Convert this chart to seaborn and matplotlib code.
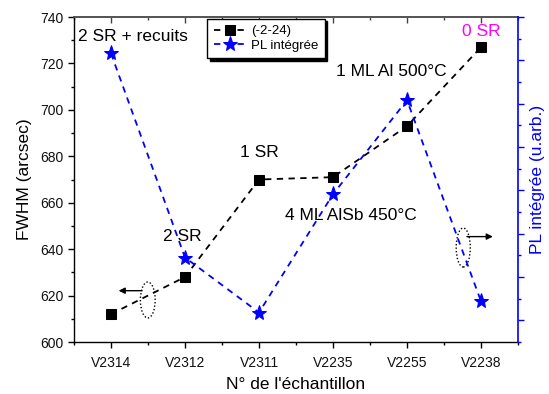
import numpy as np
import pandas as pd
import matplotlib
matplotlib.use("Agg")
import matplotlib.pyplot as plt
from matplotlib.patches import Ellipse
from matplotlib.ticker import FixedLocator, MultipleLocator
import seaborn as sns

samples = ["V2314", "V2312", "V2311", "V2235", "V2255", "V2238"]
fwhm = [612, 628, 670, 671, 693, 727]
pl_int = [6.16, 1.45, 0.18, 2.91, 5.08, 0.44]

sns.set_theme(style="ticks")
plt.rcParams['font.family'] = ['Liberation Sans', 'DejaVu Sans']
plt.rcParams.update({"text.color": "black", "axes.labelcolor": "black",
                     "xtick.color": "black", "ytick.color": "black"})

pos = np.arange(len(samples))
df = pd.DataFrame({"pos": pos, "sample": samples, "fwhm": fwhm, "pl": pl_int})

fig = plt.figure(figsize=(5.49, 3.94), dpi=100)
ax = fig.add_axes([74/549, 1-342/394, (518-74)/549, (342-17)/394])
ax2 = ax.twinx()

dash = (0, (3.5, 3))
sns.lineplot(data=df, x="pos", y="fwhm", ax=ax, color="black", marker="s",
             markersize=6.5, markeredgecolor="black", linewidth=1.3,
             linestyle=dash, label="(-2-24)", legend=False)
sns.lineplot(data=df, x="pos", y="pl", ax=ax2, color="#0000ff", marker="*",
             markersize=11, markeredgecolor="#0000ff", linewidth=1.3,
             linestyle=dash, label="PL intégrée", legend=False)

ax.set_xlim(-0.5, len(samples) - 0.5)
ax.set_ylim(600, 740)
ax2.set_ylim(-0.5, 7)

ax.set_xticks(pos)
ax.set_xticklabels(samples, fontsize=10)
ax.xaxis.set_minor_locator(FixedLocator(np.arange(-0.5, len(samples), 1.0)))
ax.yaxis.set_major_locator(MultipleLocator(20))
ax.yaxis.set_minor_locator(MultipleLocator(10))
ax.tick_params(axis="both", which="major", direction="out", length=4, width=1,
               labelsize=10, color="black", labelcolor="#111111")
ax.tick_params(axis="both", which="minor", direction="out", length=2.3, width=1)
ax.tick_params(axis="x", pad=6)

ax2.yaxis.set_major_locator(MultipleLocator(1))
ax2.yaxis.set_minor_locator(MultipleLocator(0.5))
ax2.tick_params(axis="y", which="both", labelright=False)
ax2.tick_params(axis="y", which="major", direction="out", length=4.5, width=1, color="#0000ff")
ax2.tick_params(axis="y", which="minor", direction="out", length=2.2, width=1, color="#0000ff")

# top axis with inward ticks
sec = ax.secondary_xaxis("top")
sec.set_xticks(pos)
sec.xaxis.set_minor_locator(FixedLocator(np.arange(-0.5, len(samples), 1.0)))
sec.tick_params(which="major", direction="in", length=4, width=1, labeltop=False, color="#444444")
sec.tick_params(which="minor", direction="in", length=2.3, width=1, color="#444444")
sec.spines["top"].set_color("#555555")

for sp in ["left", "bottom"]:
    ax.spines[sp].set_color("black")
    ax.spines[sp].set_linewidth(1)
for sp in ["left", "bottom", "top"]:
    ax2.spines[sp].set_visible(False)
ax2.spines["right"].set_color("#0000ff")
ax2.spines["right"].set_linewidth(1.2)
ax.spines["top"].set_color("#555555")
ax.spines["right"].set_visible(False)

ax.set_xlabel("N° de l'échantillon", fontsize=12.5, labelpad=5)
ax.set_ylabel("FWHM (arcsec)", fontsize=12.5, labelpad=6)
ax2.set_ylabel("PL intégrée (u.arb.)", fontsize=12.5, color="#0000ff", labelpad=4)

# annotations
fs = 12.5
ax.text(-0.44, 731.5, "2 SR + recuits", fontsize=fs, ha="left", va="center")
ax.text(0.96, 645.3, "2 SR", fontsize=fs, ha="center", va="center")
ax.text(2.0, 681.5, "1 SR", fontsize=fs, ha="center", va="center")
ax.text(4.135, 654.7, "4 ML AlSb 450°C", fontsize=fs, ha="right", va="center")
ax.text(3.79, 716.5, "1 ML Al 500°C", fontsize=fs, ha="center", va="center")
ax.text(5.0, 733.7, "0 SR", fontsize=fs, ha="center", va="center", color="#ff00ff")

# ellipses and arrows
ax.add_patch(Ellipse((0.497, 618.1), 0.2, 15.5, fill=False, ls=(0, (1, 1.5)),
                     lw=1, ec="black", zorder=5))
ax.add_patch(Ellipse((4.76, 640.7), 0.19, 16.8, fill=False, ls=(0, (1, 1.5)),
                     lw=1, ec="black", zorder=5))
ax.annotate("", xy=(0.103, 622.1), xytext=(0.42, 622.1),
            arrowprops=dict(arrowstyle="-|>", color="black", lw=1,
                            mutation_scale=9, shrinkA=0, shrinkB=0))
ax.annotate("", xy=(5.16, 645.4), xytext=(4.81, 645.4),
            arrowprops=dict(arrowstyle="-|>", color="black", lw=1,
                            mutation_scale=9, shrinkA=0, shrinkB=0))

handles = [ax.lines[0], ax2.lines[0]]
labels = ["(-2-24)", "PL intégrée"]
leg = ax.legend(handles, labels, loc="upper left", bbox_to_anchor=(0.30, 0.995),
                borderaxespad=0, frameon=True, fancybox=False,
                shadow={"color": "black", "alpha": 1}, fontsize=9.5,
                handlelength=2.4, handletextpad=0.4, borderpad=0.5,
                labelspacing=0.15, framealpha=1)
leg.get_frame().set_edgecolor("black")
leg.get_frame().set_linewidth(1)
leg.set_zorder(10)

fig.savefig("out.png", dpi=100)
